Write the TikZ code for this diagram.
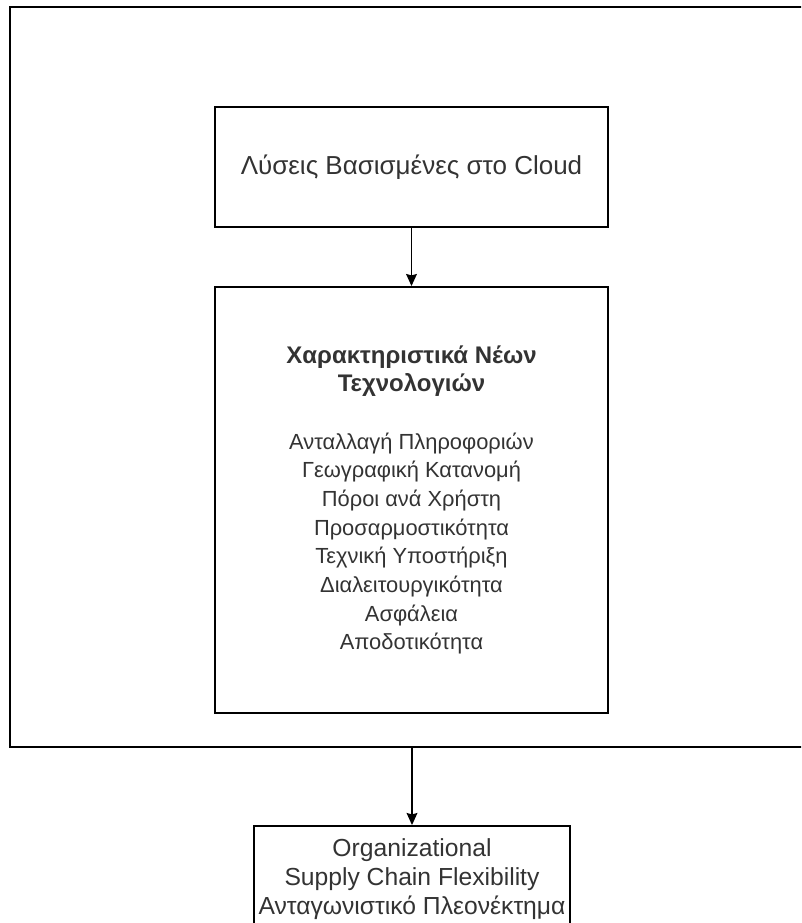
\documentclass[tikz,border=0pt]{standalone}
\usepackage{fontspec}
\setmainfont{Liberation Sans}
\usetikzlibrary{arrows.meta}
\newcommand{\headline}[1]{{\bfseries\fontsize{18}{22.5}\selectfont #1}}
\begin{document}
\begin{tikzpicture}
        [x=0.75pt,y=-0.75pt,
        box/.style={draw=black,line width=1.4pt,inner sep=0pt,align=center,text=black!80},
        arrow/.style={line width=1.4pt,-{Stealth[length=9pt,width=8pt,inset=1pt]}}]
        \useasboundingbox (0,0) rectangle (801,923);
        \clip (0,0) rectangle (801,923);
        \node[box,minimum width=603.75pt,minimum height=555pt] (frame) at (412.5,377) {};
        \node[box,minimum width=294.75pt,minimum height=90pt,font=\fontsize{19.5}{22}\selectfont] (cloud) at (411.5,167)
            {Λύσεις Βασισμένες στο Cloud};
        \node[box,minimum width=294.75pt,minimum height=319.5pt,font=\fontsize{16.4}{21.5}\selectfont] (features) at (411.5,500)
            {\headline{Χαρακτηριστικά Νέων}\\ \headline{Τεχνολογιών}\\[21.5pt]
            Ανταλλαγή Πληροφοριών\\ Γεωγραφική Κατανομή\\ Πόροι ανά Χρήστη\\
            Προσαρμοστικότητα\\ Τεχνική Υποστήριξη\\ Διαλειτουργικότητα\\
            Ασφάλεια\\ Αποδοτικότητα};
        \node[box,minimum width=237pt,minimum height=79.5pt,font=\fontsize{18.5}{21.5}\selectfont] (outcome) at (412,879)
            {Organizational\\ Supply Chain Flexibility\\ Ανταγωνιστικό Πλεονέκτημα};
        \draw[arrow] (cloud) -- (features);
        \draw[arrow] (frame.south -| outcome.north) -- (outcome);
    \end{tikzpicture}
\end{document}
